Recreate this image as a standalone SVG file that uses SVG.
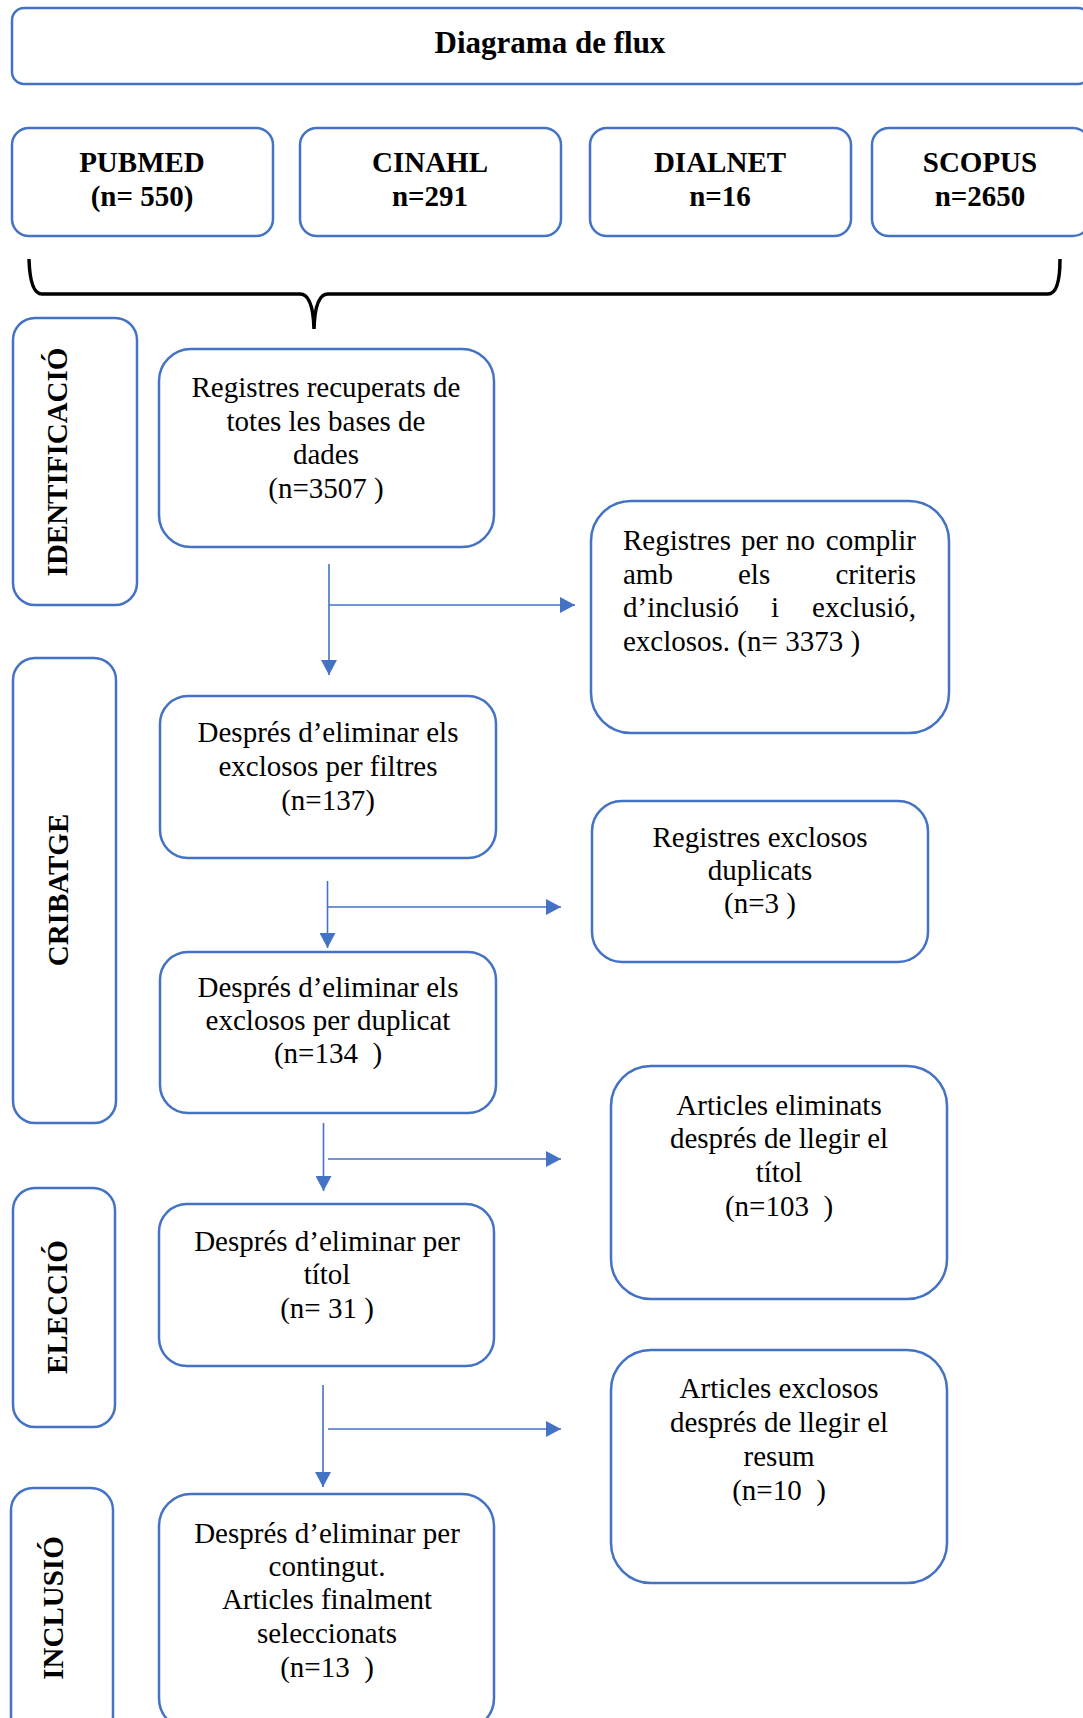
<svg xmlns="http://www.w3.org/2000/svg" width="1083" height="1718" viewBox="0 0 1083 1718">
<style>
.box{fill:#fff;stroke:#4472C4;stroke-width:2.5}
.t{font-family:"Liberation Serif","Times New Roman",serif;font-size:29px;fill:#000;white-space:pre}
.c{text-anchor:middle}
.b{font-weight:bold}
.e{text-anchor:end}
.conn{stroke:#4472C4;stroke-width:1.6;fill:none}
</style>
<defs>
<marker id="ah" markerUnits="userSpaceOnUse" markerWidth="16" markerHeight="16" viewBox="0 0 16 16" refX="15" refY="8" orient="auto">
<path d="M0,0 L15,8 L0,16 Z" fill="#4472C4"/>
</marker>
</defs>
<rect width="1083" height="1718" fill="#fff"/>

<g id="title">
<rect class="box" x="12" y="8" width="1078" height="76" rx="12"/>
<text class="t c b" x="550" y="53" style="font-size:31px">Diagrama de flux</text>
</g>

<g id="pubmed">
<rect class="box" x="12" y="128" width="261" height="108" rx="17"/>
<text class="t c b" x="142" y="172">PUBMED</text>
<text class="t c b" x="142" y="206">(n= 550)</text>
</g>
<g id="cinahl">
<rect class="box" x="300" y="128" width="261" height="108" rx="17"/>
<text class="t c b" x="430" y="172">CINAHL</text>
<text class="t c b" x="430" y="206">n=291</text>
</g>
<g id="dialnet">
<rect class="box" x="590" y="128" width="261" height="108" rx="17"/>
<text class="t c b" x="720" y="172">DIALNET</text>
<text class="t c b" x="720" y="206">n=16</text>
</g>
<g id="scopus">
<rect class="box" x="872" y="128" width="218" height="108" rx="17"/>
<text class="t c b" x="980" y="172">SCOPUS</text>
<text class="t c b" x="980" y="206">n=2650</text>
</g>

<g id="brace">
<path d="M29,259 Q30,294 42,294 L300,294 Q313,294 314,329 Q315,294 328,294 L1048,294 Q1060,294 1060,259" fill="none" stroke="#000" stroke-width="3.5"/>
</g>

<g id="lbl-identificacio">
<rect class="box" x="13" y="318" width="124" height="287" rx="22"/>
<text class="t c b" transform="translate(67,462) rotate(-90)">IDENTIFICACIÓ</text>
</g>
<g id="lbl-cribatge">
<rect class="box" x="13" y="658" width="103" height="465" rx="22"/>
<text class="t c b" transform="translate(68,890) rotate(-90)">CRIBATGE</text>
</g>
<g id="lbl-eleccio">
<rect class="box" x="13" y="1188" width="102" height="239" rx="22"/>
<text class="t c b" transform="translate(67,1307) rotate(-90)">ELECCIÓ</text>
</g>
<g id="lbl-inclusio">
<rect class="box" x="11" y="1488" width="102" height="250" rx="22"/>
<text class="t c b" transform="translate(63,1608) rotate(-90)">INCLUSIÓ</text>
</g>

<g id="n-registres">
<rect class="box" x="159" y="349" width="335" height="198" rx="32"/>
<text class="t c" x="326" y="397">Registres recuperats de</text>
<text class="t c" x="326" y="430.5">totes les bases de</text>
<text class="t c" x="326" y="464">dades</text>
<text class="t c" x="326" y="497.5">(n=3507 )</text>
</g>

<g id="n-nocomplir">
<rect class="box" x="591" y="501" width="358" height="232" rx="40"/>
<text class="t" x="623" y="550">Registres</text>
<text class="t" x="741" y="550">per</text>
<text class="t" x="786" y="550">no</text>
<text class="t e" x="916" y="550">complir</text>
<text class="t" x="623" y="584">amb</text>
<text class="t" x="738" y="584">els</text>
<text class="t e" x="916" y="584">criteris</text>
<text class="t" x="623" y="617">d’inclusió</text>
<text class="t" x="771" y="617">i</text>
<text class="t e" x="916" y="617">exclusió,</text>
<text class="t" x="623" y="651">exclosos. (n= 3373 )</text>
</g>

<g id="n-filtres">
<rect class="box" x="160" y="696" width="336" height="162" rx="28"/>
<text class="t c" x="328" y="742">Després d’eliminar els</text>
<text class="t c" x="328" y="776">exclosos per filtres</text>
<text class="t c" x="328" y="810">(n=137)</text>
</g>

<g id="n-duplicats">
<rect class="box" x="592" y="801" width="336" height="161" rx="30"/>
<text class="t c" x="760" y="847">Registres exclosos</text>
<text class="t c" x="760" y="880">duplicats</text>
<text class="t c" x="760" y="913">(n=3 )</text>
</g>

<g id="n-duplicat">
<rect class="box" x="160" y="952" width="336" height="161" rx="28"/>
<text class="t c" x="328" y="997">Després d’eliminar els</text>
<text class="t c" x="328" y="1030">exclosos per duplicat</text>
<text class="t c" x="328" y="1063">(n=134  )</text>
</g>

<g id="n-eliminats">
<rect class="box" x="611" y="1066" width="336" height="233" rx="40"/>
<text class="t c" x="779" y="1115">Articles eliminats</text>
<text class="t c" x="779" y="1148">després de llegir el</text>
<text class="t c" x="779" y="1182">títol</text>
<text class="t c" x="779" y="1216">(n=103  )</text>
</g>

<g id="n-titol">
<rect class="box" x="159" y="1204" width="335" height="162" rx="28"/>
<text class="t c" x="327" y="1251">Després d’eliminar per</text>
<text class="t c" x="327" y="1284">títol</text>
<text class="t c" x="327" y="1318">(n= 31 )</text>
</g>

<g id="n-resum">
<rect class="box" x="611" y="1350" width="336" height="233" rx="40"/>
<text class="t c" x="779" y="1398">Articles exclosos</text>
<text class="t c" x="779" y="1432">després de llegir el</text>
<text class="t c" x="779" y="1466">resum</text>
<text class="t c" x="779" y="1500">(n=10  )</text>
</g>

<g id="n-final">
<rect class="box" x="159" y="1494" width="335" height="236" rx="32"/>
<text class="t c" x="327" y="1543">Després d’eliminar per</text>
<text class="t c" x="327" y="1576">contingut.</text>
<text class="t c" x="327" y="1609">Articles finalment</text>
<text class="t c" x="327" y="1643">seleccionats</text>
<text class="t c" x="327" y="1677">(n=13  )</text>
</g>

<g id="connectors">
<line class="conn" x1="329" y1="564" x2="329" y2="675" marker-end="url(#ah)"/>
<line class="conn" x1="329" y1="605" x2="575" y2="605" marker-end="url(#ah)"/>
<line class="conn" x1="327.5" y1="881" x2="327.5" y2="948" marker-end="url(#ah)"/>
<line class="conn" x1="328" y1="907" x2="561" y2="907" marker-end="url(#ah)"/>
<line class="conn" x1="323.5" y1="1123" x2="323.5" y2="1191" marker-end="url(#ah)"/>
<line class="conn" x1="328" y1="1159" x2="561" y2="1159" marker-end="url(#ah)"/>
<line class="conn" x1="323" y1="1385" x2="323" y2="1487" marker-end="url(#ah)"/>
<line class="conn" x1="328" y1="1429" x2="561" y2="1429" marker-end="url(#ah)"/>
</g>
</svg>
